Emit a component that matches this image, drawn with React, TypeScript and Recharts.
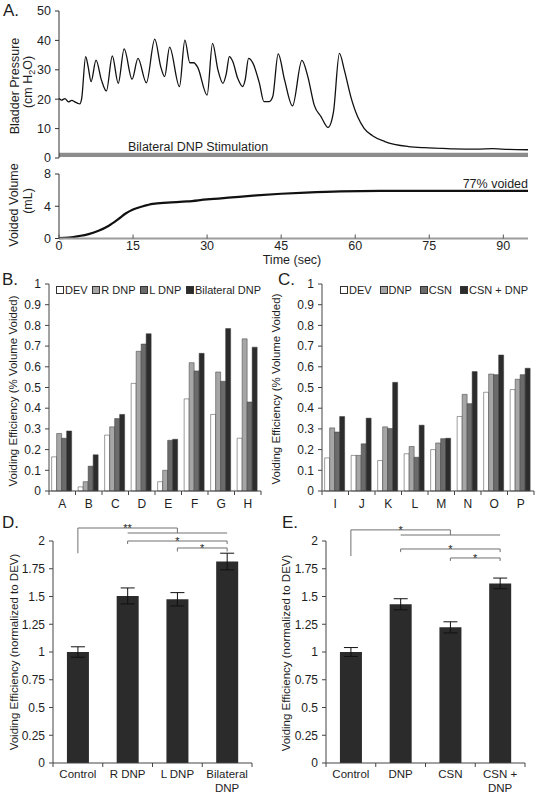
import React from 'react';
import {
  LineChart, Line, BarChart, Bar, XAxis, YAxis, ReferenceArea, ReferenceLine,
  ErrorBar, Legend, Text,
} from 'recharts';

const FONT = '"Liberation Sans", Arial, Helvetica, sans-serif';
const INK = '#1e1e1e';

// A. bladder pressure during bilateral DNP stimulation (sec / cm H2O)
const pressureSec = [0, 0.5, 1.2, 1.9, 2.6, 3.2, 3.8, 4.2, 4.6, 5.4, 5.9, 6.5, 7.5, 8.6, 9.6, 10.8, 12.0, 13.2, 14.8, 16.0, 17.7, 19.4, 20.6, 21.4, 22.4, 24.4, 25.5, 26.5, 27.3, 28.1, 30.0, 31.1, 32.2, 33.2, 33.9, 34.5, 35.2, 36.2, 37.2, 37.7, 38.4, 39.3, 40.6, 41.5, 42.6, 43.3, 44.4, 45.7, 47.3, 49.2, 50.4, 51.7, 53.1, 54.5, 55.6, 56.8, 57.8, 59.1, 60.5, 61.8, 63.5, 66.0, 70.8, 74.0, 77.7, 80.0, 84.6, 88.0, 91.0, 95.0];
const pressureCm = [20.3, 19.7, 20.2, 19.1, 19.6, 19.1, 18.6, 18.4, 20.3, 34.5, 31.1, 26.0, 33.3, 26.5, 22.8, 34.7, 25.4, 37.1, 26.8, 33.9, 25.6, 40.4, 31.1, 27.7, 37.7, 24.3, 40.1, 32.4, 32.4, 30.8, 21.4, 39.0, 29.9, 25.4, 28.8, 34.5, 32.8, 27.1, 24.3, 26.5, 33.9, 32.2, 25.4, 19.2, 19.2, 20.9, 35.4, 26.5, 17.7, 33.2, 27.7, 18.0, 14.0, 10.4, 15.7, 35.6, 29.9, 20.9, 14.0, 10.1, 7.6, 5.6, 3.9, 3.5, 3.3, 3.1, 3.0, 3.2, 2.9, 2.8];
const pressureTicks = [27.6, 55.2, 82.8];
const pressureYTicks = [0, 10, 20, 30, 40, 50];

// A. voided volume (sec / mL)
const volumeSec = [0, 2, 4, 6, 8, 10, 12, 13.5, 15, 17, 19, 22, 26, 30, 35, 40, 45, 50, 57, 65, 80, 95];
const volumeMl = [0.05, 0.12, 0.3, 0.55, 0.95, 1.55, 2.4, 3.1, 3.6, 4.0, 4.3, 4.45, 4.6, 4.85, 5.1, 5.35, 5.55, 5.7, 5.85, 5.9, 5.9, 5.9];
const timeTicks = [0, 15, 30, 45, 60, 75, 90];
const volumeTicks = [0, 2, 4, 6, 8];

// B. voiding efficiency per animal
const bCats = ['A', 'B', 'C', 'D', 'E', 'F', 'G', 'H'];
const bDev = [0.165, 0.02, 0.27, 0.52, 0.045, 0.445, 0.37, 0.255];
const bRDnp = [0.278, 0.045, 0.31, 0.675, 0.10, 0.62, 0.575, 0.735];
const bLDnp = [0.255, 0.12, 0.35, 0.71, 0.245, 0.58, 0.53, 0.43];
const bBilat = [0.29, 0.175, 0.37, 0.76, 0.25, 0.665, 0.785, 0.695];
const bSeries = ['DEV', 'R DNP', 'L DNP', 'Bilateral DNP'];

// C. voiding efficiency per animal
const cCats = ['I', 'J', 'K', 'L', 'M', 'N', 'O', 'P'];
const cDev = [0.16, 0.172, 0.147, 0.18, 0.2, 0.36, 0.477, 0.49];
const cDnp = [0.305, 0.172, 0.31, 0.215, 0.232, 0.467, 0.565, 0.54];
const cCsn = [0.285, 0.228, 0.302, 0.163, 0.253, 0.422, 0.562, 0.562];
const cCsnDnp = [0.36, 0.352, 0.525, 0.318, 0.255, 0.577, 0.657, 0.593];
const cSeries = ['DEV', 'DNP', 'CSN', 'CSN + DNP'];
const effTicks = [0, 0.1, 0.2, 0.3, 0.4, 0.5, 0.6, 0.7, 0.8, 0.9, 1];

// D. / E. normalized means with SEM
const dCats = ['Control', 'R DNP', 'L DNP', 'Bilateral DNP'];
const dMean = [1.0, 1.505, 1.475, 1.815];
const dErr = [0.047, 0.072, 0.06, 0.075];
const eCats = ['Control', 'DNP', 'CSN', 'CSN + DNP'];
const eMean = [1.0, 1.43, 1.222, 1.618];
const eErr = [0.04, 0.05, 0.05, 0.048];
const normTicks = [0, 0.25, 0.5, 0.75, 1, 1.25, 1.5, 1.75, 2];

const pressureData = pressureSec.map((t, i) => ({ t, p: pressureCm[i] }));
const volumeData = volumeSec.map((t, i) => ({ t, v: volumeMl[i] }));
const bData = bCats.map((name, i) => ({ name, dev: bDev[i], r: bRDnp[i], l: bLDnp[i], bi: bBilat[i] }));
const cData = cCats.map((name, i) => ({ name, dev: cDev[i], dnp: cDnp[i], csn: cCsn[i], both: cCsnDnp[i] }));
const dData = dCats.map((name, i) => ({ name, v: dMean[i], err: dErr[i] }));
const eData = eCats.map((name, i) => ({ name, v: eMean[i], err: eErr[i] }));

const GRAYS = ['#ffffff', '#a6a6a6', '#6b6b6b', '#2c2c2c'];
const tickStyle = { fontSize: 12, fill: INK, fontFamily: FONT };
const axisStroke = '#444';

const TimeTick = (props: any) => {
  const { x, y, payload } = props;
  return (
    <g>
      <line x1={x} x2={x} y1={y} y2={y - 4} stroke="#555" />
      <text x={x} y={y + 11} textAnchor="middle" fontSize={12.5} fill={INK} fontFamily={FONT}>{payload.value}</text>
    </g>
  );
};

// category tick: marks at band edges, label (wrapped) under the band centre
const catTick = (fallbackBand: number, textDy: number, lineHeight: number, fontSize: number) => (props: any) => {
  const { x, y, payload, index, visibleTicksCount, width } = props;
  const band = width && visibleTicksCount ? width / visibleTicksCount : fallbackBand;
  const half = band / 2;
  return (
    <g>
      <line x1={x - half} x2={x - half} y1={y} y2={y + 4} stroke={axisStroke} />
      {index === visibleTicksCount - 1 && <line x1={x + half} x2={x + half} y1={y} y2={y + 4} stroke={axisStroke} />}
      <Text x={x} y={y + textDy} width={47} textAnchor="middle" verticalAnchor="start" lineHeight={lineHeight}
        fontSize={fontSize} fill={INK} fontFamily={FONT}>{String(payload.value)}</Text>
    </g>
  );
};

const legendContent = (width: number, order: string[]) => (props: any) => {
  const items = [...(props.payload || [])].sort((a: any, b: any) => order.indexOf(a.value) - order.indexOf(b.value));
  return (
    <div style={{ display: 'flex', justifyContent: 'space-between', width, fontFamily: FONT, fontSize: 11, color: INK, lineHeight: '12px' }}>
      {items.map((e: any) => (
        <span key={e.value} style={{ display: 'flex', alignItems: 'center', whiteSpace: 'nowrap' }}>
          <span style={{ display: 'inline-block', width: 6, height: 6, background: e.color, border: '1px solid #333', marginRight: 1 }} />
          {e.value}
        </span>
      ))}
    </div>
  );
};

const starLabel = (star: string) => (props: any) => {
  const vb = props.viewBox || {};
  return (
    <text x={vb.x + vb.width / 2} y={vb.y + 4} textAnchor="middle" fontSize={11} fill={INK} fontFamily={FONT}>{star}</text>
  );
};

const seg = (key: string, x1: string, y1: number, x2: string, y2: number, star?: string) => (
  <ReferenceLine
    key={key}
    segment={[{ x: x1, y: y1 }, { x: x2, y: y2 }]}
    stroke="#707070"
    strokeWidth={1}
    ifOverflow="visible"
    label={star ? starLabel(star) : undefined}
  />
);

function PressurePanel() {
  return (
    <LineChart width={535} height={170} data={pressureData} margin={{ top: 11, right: 7, bottom: 12, left: 0 }}>
      <XAxis dataKey="t" type="number" domain={[0, 95]} ticks={pressureTicks} tickFormatter={() => ''}
        mirror height={0} tickSize={4} axisLine={{ stroke: '#555' }} tickLine={{ stroke: '#555' }} />
      <YAxis type="number" domain={[0, 50]} ticks={pressureYTicks} width={59} tickSize={4} tickMargin={4}
        tick={{ ...tickStyle, fontSize: 12.5 }} axisLine={{ stroke: '#333' }} tickLine={{ stroke: '#333' }} />
      <ReferenceArea x1={0} x2={95} y1={0.3} y2={1.8} fill="#8c8c8c" fillOpacity={1} stroke="none" />
      <Line type="monotone" dataKey="p" stroke="#111" strokeWidth={1.3} dot={false} isAnimationActive={false} />
    </LineChart>
  );
}

function VolumePanel() {
  return (
    <LineChart width={535} height={100} data={volumeData} margin={{ top: 9, right: 7, bottom: 0, left: 0 }}>
      <XAxis dataKey="t" type="number" domain={[0, 95]} ticks={timeTicks} height={26.5} tickSize={0} tickMargin={0}
        tickLine={false} tick={TimeTick} axisLine={{ stroke: '#9c9c9c', strokeWidth: 2 }} />
      <YAxis type="number" domain={[0, 8]} ticks={volumeTicks} width={59} tickSize={4} tickMargin={4}
        tick={{ ...tickStyle, fontSize: 12.5 }} axisLine={{ stroke: '#333' }} tickLine={{ stroke: '#333' }} />
      <Line type="monotone" dataKey="v" stroke="#111" strokeWidth={2.2} dot={false} isAnimationActive={false} />
    </LineChart>
  );
}

function PerAnimalPanel({ data, keys, names, width, yWidth, right, legendLeft, legendWidth }: any) {
  return (
    <BarChart width={width} height={240} data={data} margin={{ top: 14, right, bottom: 0, left: 0 }}
      barCategoryGap="10%" barGap={0}>
      <XAxis dataKey="name" height={19} interval={0} tickSize={0} tickMargin={0} tickLine={false}
        tick={catTick(26.5, 8, 13, 12)} axisLine={{ stroke: axisStroke }} />
      <YAxis type="number" domain={[0, 1]} ticks={effTicks} width={yWidth} tickSize={4} tickMargin={4}
        tick={tickStyle} axisLine={{ stroke: axisStroke }} tickLine={{ stroke: axisStroke }} />
      <Legend layout="horizontal" verticalAlign="middle" align="center"
        wrapperStyle={{ top: 14, left: legendLeft, width: legendWidth }} content={legendContent(legendWidth, names)} />
      {keys.map((k: string, i: number) => (
        <Bar key={k} dataKey={k} name={names[i]} fill={GRAYS[i]} stroke="#3a3a3a" strokeWidth={0.5}
          isAnimationActive={false} />
      ))}
    </BarChart>
  );
}

function MeanPanel({ data, width, yWidth, right, children }: any) {
  return (
    <BarChart width={width} height={280} data={data} margin={{ top: 26, right, bottom: 0, left: 0 }}
      barCategoryGap="28%">
      <XAxis dataKey="name" height={32} interval={0} tickSize={0} tickMargin={0} tickLine={false}
        tick={catTick(49.75, 7.3, 13.2, 11.5)} axisLine={{ stroke: axisStroke }} />
      <YAxis type="number" domain={[0, 2]} ticks={normTicks} width={yWidth} tickSize={4} tickMargin={4}
        tick={tickStyle} axisLine={{ stroke: axisStroke }} tickLine={{ stroke: axisStroke }} />
      <Bar dataKey="v" fill="#2b2b2b" isAnimationActive={false}>
        <ErrorBar dataKey="err" width={7} stroke="#111" strokeWidth={1} direction="y" />
      </Bar>
      {children}
    </BarChart>
  );
}

export default function App() {
  return (
    <div style={{ position: 'absolute', left: 0, top: 0, width: 535, height: 795, background: '#fff', fontFamily: FONT }}>
      <div style={{ position: 'absolute', left: 0, top: 0 }}><PressurePanel /></div>
      <div style={{ position: 'absolute', left: 0, top: 165 }}><VolumePanel /></div>
      <div style={{ position: 'absolute', left: 0, top: 270 }}>
        <PerAnimalPanel data={bData} keys={['dev', 'r', 'l', 'bi']} names={bSeries}
          width={268} yWidth={49} right={7} legendLeft={56} legendWidth={205} />
      </div>
      <div style={{ position: 'absolute', left: 270, top: 270 }}>
        <PerAnimalPanel data={cData} keys={['dev', 'dnp', 'csn', 'both']} names={cSeries}
          width={265} yWidth={52} right={1} legendLeft={70} legendWidth={188} />
      </div>
      <div style={{ position: 'absolute', left: 0, top: 515 }}>
        <MeanPanel data={dData} width={268} yWidth={53} right={16}>
          {[
            seg('d1', 'Control', 1.89, 'Control', 2.117),
            seg('d2', 'Control', 2.117, 'L DNP', 2.117, '**'),
            seg('d3', 'L DNP', 2.117, 'L DNP', 2.072),
            seg('d4', 'R DNP', 2.072, 'Bilateral DNP', 2.072),
            seg('d5', 'R DNP', 2.0, 'Bilateral DNP', 2.0, '*'),
            seg('d6', 'R DNP', 2.0, 'R DNP', 1.973),
            seg('d7', 'Bilateral DNP', 2.0, 'Bilateral DNP', 1.973),
            seg('d8', 'L DNP', 1.937, 'Bilateral DNP', 1.937, '*'),
            seg('d9', 'L DNP', 1.937, 'L DNP', 1.905),
            seg('d10', 'Bilateral DNP', 1.937, 'Bilateral DNP', 1.905),
          ]}
        </MeanPanel>
      </div>
      <div style={{ position: 'absolute', left: 270, top: 515 }}>
        <MeanPanel data={eData} width={265} yWidth={56} right={10}>
          {[
            seg('e1', 'Control', 1.865, 'Control', 2.1),
            seg('e2', 'Control', 2.1, 'CSN', 2.1, '*'),
            seg('e3', 'CSN', 2.1, 'CSN', 2.054),
            seg('e4', 'DNP', 2.054, 'CSN + DNP', 2.054),
            seg('e5', 'DNP', 1.928, 'CSN + DNP', 1.928, '*'),
            seg('e6', 'DNP', 1.928, 'DNP', 1.9),
            seg('e7', 'CSN + DNP', 1.928, 'CSN + DNP', 1.9),
            seg('e8', 'CSN', 1.847, 'CSN + DNP', 1.847, '*'),
            seg('e9', 'CSN', 1.847, 'CSN', 1.82),
            seg('e10', 'CSN + DNP', 1.847, 'CSN + DNP', 1.82),
          ]}
        </MeanPanel>
      </div>

      <svg width={535} height={795} style={{ position: 'absolute', left: 0, top: 0, pointerEvents: 'none' }}
        fontFamily={FONT} fill={INK}>
        <text x={3} y={16} fontSize={17}>A.</text>
        <text transform="translate(19,86) rotate(-90)" textAnchor="middle" fontSize={12.5}>Bladder Pressure</text>
        <text transform="translate(32,82) rotate(-90)" textAnchor="middle" fontSize={12.5}>
          (cm H<tspan fontSize={9} dy={3}>2</tspan><tspan dy={-3}>O)</tspan>
        </text>
        <text x={128} y={150.5} fontSize={12.5}>Bilateral DNP Stimulation</text>
        <text transform="translate(18,205) rotate(-90)" textAnchor="middle" fontSize={12.5}>Voided Volume</text>
        <text transform="translate(31.5,201) rotate(-90)" textAnchor="middle" fontSize={12.5}>(mL)</text>
        <text x={528} y={187.5} textAnchor="end" fontSize={12.5}>77% voided</text>
        <text x={292} y={264} textAnchor="middle" fontSize={12.5}>Time (sec)</text>

        <text x={2} y={285} fontSize={17}>B.</text>
        <text transform="translate(17,391) rotate(-90)" textAnchor="middle" fontSize={11.5}>Voiding Efficiency (% Volume Voided)</text>
        <text x={278} y={285} fontSize={17}>C.</text>
        <text transform="translate(280,389) rotate(-90)" textAnchor="middle" fontSize={11.5}>Voiding Efficiency (% Volume Voided)</text>

        <text x={2} y={528} fontSize={17}>D.</text>
        <text transform="translate(17.5,652) rotate(-90)" textAnchor="middle" fontSize={11.5}>Voiding Efficiency (normalized to DEV)</text>
        <text x={282} y={528} fontSize={17}>E.</text>
        <text transform="translate(289.5,653) rotate(-90)" textAnchor="middle" fontSize={11.5}>Voiding Efficiency (normalized to DEV)</text>
      </svg>
    </div>
  );
}
